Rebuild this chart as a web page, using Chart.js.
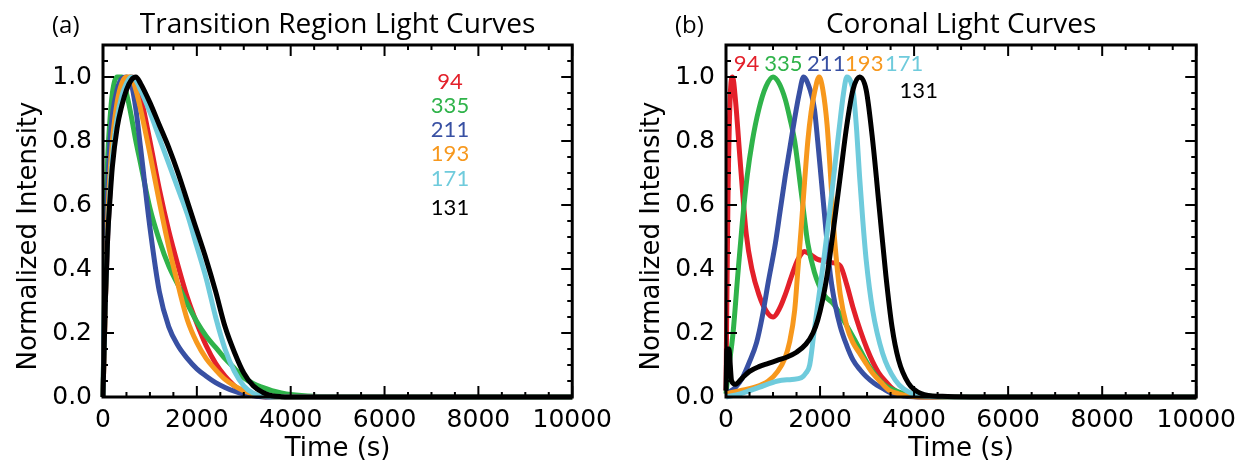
<!DOCTYPE html>
<html>
<head>
<meta charset="utf-8">
<script src="https://cdn.jsdelivr.net/npm/chart.js@4/dist/chart.umd.min.js"></script>
<style>
  html, body { margin: 0; padding: 0; background: #fff; }
  #wrap { position: relative; width: 1244px; height: 463px; }
  .panel { position: absolute; top: 0; height: 463px; }
  #left { left: 0; width: 620px; }
  #right { left: 620px; width: 624px; }
</style>
</head>
<body>
<div id="wrap">
  <div class="panel" id="left"><canvas id="tr" width="620" height="463"></canvas></div>
  <div class="panel" id="right"><canvas id="cor" width="624" height="463"></canvas></div>
</div>
<script>
// channel names (Angstrom) in legend order
const channels = ['94', '335', '211', '193', '171', '131'];

// x axis ticks (s) and y axis ticks
const timeTicks = [0, 2000, 4000, 6000, 8000, 10000];
const intensityTicks = [0.0, 0.2, 0.4, 0.6, 0.8, 1.0];

// (a) transition region light curves, [time s, normalized intensity]
const tr94 = [[0,0],[50,0.3],[100,0.5],[150,0.65],[200,0.75],[300,0.88],[400,0.95],[500,0.99],[600,1.0],[700,0.99],[800,0.94],[1000,0.8],[1200,0.65],[1400,0.52],[1600,0.41],[1800,0.31],[2000,0.23],[2200,0.16],[2400,0.105],[2600,0.065],[2800,0.035],[3000,0.014],[3200,0.005],[3400,0.001],[3800,0],[10000,0]];
const tr335 = [[0,0],[50,0.5],[100,0.75],[150,0.87],[200,0.95],[300,1.0],[400,1.0],[500,0.95],[600,0.88],[700,0.8],[800,0.73],[1000,0.59],[1200,0.49],[1400,0.41],[1600,0.35],[1800,0.29],[2000,0.235],[2200,0.19],[2400,0.155],[2600,0.12],[2800,0.09],[3000,0.06],[3200,0.042],[3400,0.03],[3600,0.02],[3800,0.013],[4000,0.008],[4500,0.002],[5000,0.0005],[6000,0],[10000,0]];
const tr211 = [[0,0],[50,0.45],[100,0.65],[150,0.8],[200,0.88],[300,0.96],[400,0.995],[500,1.0],[600,0.98],[700,0.9],[800,0.78],[1000,0.53],[1200,0.33],[1400,0.22],[1600,0.16],[1800,0.12],[2000,0.088],[2200,0.065],[2400,0.045],[2600,0.03],[2800,0.018],[3000,0.009],[3200,0.004],[3400,0.001],[3800,0],[10000,0]];
const tr193 = [[0,0],[50,0.3],[100,0.55],[150,0.7],[200,0.8],[300,0.92],[400,0.98],[500,1.0],[600,1.0],[700,0.96],[800,0.9],[1000,0.76],[1200,0.61],[1400,0.47],[1600,0.35],[1800,0.24],[2000,0.17],[2200,0.12],[2400,0.085],[2600,0.055],[2800,0.035],[3000,0.02],[3200,0.01],[3400,0.004],[3600,0.001],[4000,0],[10000,0]];
const tr171 = [[0,0],[50,0.3],[100,0.5],[150,0.65],[200,0.75],[300,0.87],[400,0.94],[500,0.98],[600,1.0],[700,0.99],[800,0.96],[1000,0.89],[1200,0.81],[1400,0.73],[1600,0.65],[1800,0.57],[2000,0.47],[2200,0.37],[2400,0.25],[2600,0.15],[2800,0.08],[3000,0.035],[3200,0.012],[3400,0.003],[3600,0],[10000,0]];
const tr131 = [[0,0],[50,0.3],[100,0.5],[150,0.62],[200,0.72],[300,0.84],[400,0.91],[500,0.96],[600,0.99],[700,1.0],[800,0.98],[1000,0.92],[1200,0.85],[1400,0.78],[1600,0.7],[1800,0.61],[2000,0.52],[2200,0.43],[2400,0.33],[2600,0.22],[2800,0.14],[3000,0.075],[3200,0.035],[3400,0.015],[3600,0.004],[3800,0.001],[4200,0],[10000,0]];

// (b) coronal light curves
const cor94 = [[0,0.02],[40,0.6],[100,0.97],[140,1.0],[200,0.93],[300,0.74],[430,0.51],[550,0.4],[700,0.32],[850,0.27],[1000,0.25],[1150,0.28],[1260,0.32],[1400,0.38],[1530,0.43],[1670,0.455],[1800,0.445],[1950,0.43],[2100,0.425],[2250,0.42],[2430,0.41],[2570,0.35],[2700,0.28],[2850,0.21],[3000,0.15],[3120,0.11],[3250,0.075],[3400,0.048],[3550,0.025],[3700,0.01],[3900,0.003],[4300,0],[10000,0]];
const cor335 = [[0,0.01],[50,0.08],[150,0.2],[250,0.38],[350,0.55],[450,0.69],[560,0.8],[700,0.9],[850,0.97],[1000,1.0],[1130,0.98],[1260,0.93],[1360,0.87],[1460,0.8],[1600,0.64],[1740,0.48],[1880,0.39],[2080,0.32],[2290,0.29],[2500,0.24],[2770,0.17],[3050,0.095],[3330,0.043],[3650,0.017],[4000,0.006],[4500,0.001],[5000,0],[10000,0]];
const cor211 = [[0,0.01],[200,0.03],[350,0.06],[500,0.11],[650,0.17],[770,0.25],[900,0.36],[1050,0.48],[1150,0.58],[1260,0.69],[1360,0.78],[1460,0.87],[1560,0.95],[1650,1.0],[1740,0.98],[1880,0.9],[1950,0.8],[2020,0.69],[2120,0.53],[2220,0.38],[2320,0.29],[2430,0.22],[2570,0.16],[2700,0.116],[2850,0.085],[2980,0.064],[3150,0.043],[3330,0.027],[3530,0.011],[3800,0.003],[4200,0],[10000,0]];
const cor193 = [[0,0.01],[300,0.02],[600,0.03],[900,0.05],[1100,0.08],[1250,0.12],[1350,0.17],[1460,0.27],[1530,0.4],[1600,0.53],[1670,0.67],[1740,0.8],[1810,0.89],[1880,0.95],[1980,1.0],[2060,0.96],[2150,0.85],[2220,0.7],[2290,0.53],[2360,0.41],[2430,0.32],[2570,0.22],[2700,0.17],[2840,0.137],[3000,0.1],[3120,0.074],[3300,0.045],[3460,0.022],[3670,0.01],[3900,0.003],[4300,0],[10000,0]];
const cor171 = [[0,0],[300,0.01],[700,0.03],[1100,0.05],[1400,0.055],[1600,0.06],[1700,0.075],[1780,0.1],[1870,0.2],[1980,0.32],[2080,0.43],[2190,0.56],[2290,0.69],[2400,0.83],[2500,0.95],[2570,1.0],[2640,0.99],[2710,0.95],[2780,0.83],[2840,0.69],[2910,0.55],[2980,0.43],[3120,0.27],[3330,0.137],[3600,0.053],[3950,0.011],[4300,0.002],[4800,0],[10000,0]];
const cor131 = [[0,0.02],[20,0.15],[60,0.15],[120,0.05],[200,0.04],[350,0.06],[500,0.08],[700,0.095],[900,0.105],[1100,0.115],[1300,0.125],[1500,0.14],[1700,0.165],[1850,0.2],[1950,0.24],[2050,0.3],[2150,0.38],[2290,0.53],[2430,0.69],[2570,0.85],[2700,0.96],[2840,1.0],[2980,0.96],[3120,0.8],[3260,0.59],[3400,0.38],[3530,0.22],[3670,0.116],[3880,0.043],[4150,0.011],[4600,0.002],[5200,0],[10000,0]];

const colours = ['#E3202A', '#2FB34A', '#3850A3', '#F7981D', '#6FCBDC', '#000000'];
const drawOrder = [5, 4, 3, 2, 1, 0]; // 131 on top

const tickFont = { family: 'DejaVu Sans', size: 25 };
const titleFont = '28px "Open Sans"';
const axisFont = '26px "DejaVu Sans"';
const labelFont = '22px Lato';

// frame, inward IDL-style ticks and all free text
const panelDecor = {
  id: 'panelDecor',
  afterDatasetsDraw(chart, args, o) {
    const { ctx, chartArea: a, scales: { x, y } } = chart;
    ctx.save();
    ctx.strokeStyle = '#000';
    ctx.lineWidth = 2;
    ctx.beginPath();
    for (let i = 0; i <= 20; i++) {
      const px = x.getPixelForValue(i * 500);
      const len = i % 4 === 0 ? 11 : 5;
      ctx.moveTo(px, a.bottom); ctx.lineTo(px, a.bottom - len);
      ctx.moveTo(px, a.top); ctx.lineTo(px, a.top + len);
    }
    for (let j = 0; j <= 22; j++) {
      const py = y.getPixelForValue(j * 0.05);
      const len = j % 4 === 0 ? 11 : 5;
      ctx.moveTo(a.left, py); ctx.lineTo(a.left + len, py);
      ctx.moveTo(a.right, py); ctx.lineTo(a.right - len, py);
    }
    ctx.stroke();
    ctx.lineWidth = 3;
    ctx.strokeRect(a.left, a.top, a.right - a.left, a.bottom - a.top);

    ctx.fillStyle = '#000';
    ctx.textBaseline = 'alphabetic';
    // panel letter and title
    ctx.font = '24px "Open Sans"';
    ctx.textAlign = 'left';
    ctx.fillText(o.letter, a.left - 51, a.top - 12);
    ctx.font = titleFont;
    ctx.textAlign = 'center';
    ctx.fillText(o.title, (a.left + a.right) / 2, a.top - 12);
    // axis titles
    ctx.font = axisFont;
    ctx.fillText('Time (s)', (a.left + a.right) / 2, a.bottom + 59);
    ctx.save();
    ctx.translate(a.left - 67, (a.top + a.bottom) / 2 + 15);
    ctx.rotate(-Math.PI / 2);
    ctx.fillText('Normalized Intensity', 0, 0);
    ctx.restore();
    // channel labels
    ctx.font = labelFont;
    ctx.textBaseline = 'middle';
    o.labels.forEach((l, i) => {
      ctx.fillStyle = colours[i];
      ctx.fillText(channels[i], x.getPixelForValue(l[0]), y.getPixelForValue(l[1]));
    });
    ctx.restore();
  }
};

function makeChart(id, curves, padRight, axisWidth, decor) {
  const datasets = curves.map((c, i) => ({
    label: channels[i],
    data: c.map(p => ({ x: p[0], y: p[1] })),
    borderColor: colours[i],
    borderWidth: 5,
    pointRadius: 0,
    cubicInterpolationMode: 'monotone',
    clip: 6,
    order: drawOrder[i]
  }));
  return new Chart(document.getElementById(id), {
    type: 'line',
    data: { datasets },
    options: {
      responsive: false,
      animation: false,
      devicePixelRatio: 1,
      layout: { padding: { top: 45, right: padRight, left: 0, bottom: 0 } },
      plugins: { legend: { display: false }, tooltip: { enabled: false }, panelDecor: decor },
      scales: {
        x: {
          type: 'linear', min: 0, max: 10000,
          afterBuildTicks: s => { s.ticks = timeTicks.map(v => ({ value: v })); },
          afterFit: s => { s.height = 66; },
          grid: { display: false, drawTicks: false },
          border: { display: false },
          ticks: { font: tickFont, color: '#000', padding: 8, maxRotation: 0, callback: v => String(v) }
        },
        y: {
          type: 'linear', min: 0, max: 1.1,
          afterBuildTicks: s => { s.ticks = intensityTicks.map(v => ({ value: v })); },
          afterFit: s => { s.width = axisWidth; },
          grid: { display: false, drawTicks: false },
          border: { display: false },
          ticks: { font: tickFont, color: '#000', padding: 11, callback: v => v.toFixed(1) }
        }
      }
    },
    plugins: [panelDecor]
  });
}

makeChart('tr', [tr94, tr335, tr211, tr193, tr171, tr131], 41, 103, {
  letter: '(a)',
  title: 'Transition Region Light Curves',
  labels: [[7395, 0.984], [7395, 0.909], [7395, 0.834], [7395, 0.759], [7395, 0.683], [7395, 0.592]]
});
makeChart('cor', [cor94, cor335, cor211, cor193, cor171, cor131], 35, 106, {
  letter: '(b)',
  title: 'Coronal Light Curves',
  labels: [[435, 1.04], [1221, 1.04], [2132, 1.04], [2940, 1.04], [3788, 1.04], [4099, 0.956]]
});
</script>
</body>
</html>
